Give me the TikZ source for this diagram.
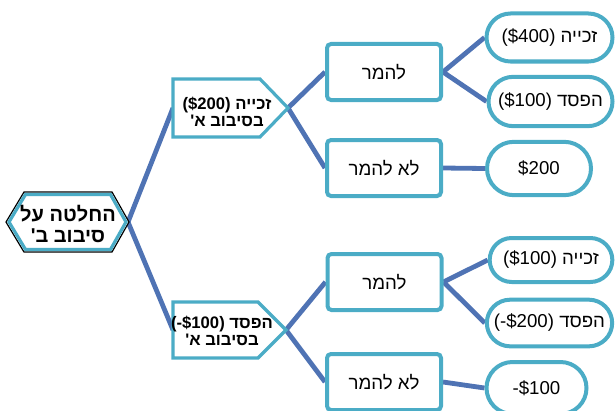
\documentclass[tikz,border=0pt]{standalone}
\usepackage{fontspec}
\TeXXeTstate=1
\setmainfont{Liberation Sans}
\newfontfamily\heb[Script=Hebrew]{Liberation Sans}
\newfontfamily\lat{Liberation Sans}
\usetikzlibrary{shapes.misc,backgrounds}
\definecolor{tealb}{RGB}{75,172,198}
\definecolor{conn}{RGB}{79,115,180}
\tikzset{
  px/.style={x=0.75pt,y=-0.75pt},
  conline/.style={draw=conn,line width=3.6pt},
  choicebox/.style={draw=tealb,fill=white,line width=3pt,rounded corners=3pt,
     minimum width=85.5pt,minimum height=42pt,inner sep=0pt,font=\fontsize{14}{16}\selectfont},
  pillbox/.style={draw=tealb,fill=white,line width=3pt,rounded rectangle,
     inner sep=0pt,font=\fontsize{14}{16}\selectfont},
  shapeline/.style={draw=tealb,fill=white,line width=2.4pt,line join=miter},
  boldtext/.style={font=\bfseries\fontsize{12.5}{13}\selectfont,align=center,inner sep=0pt},
  hextext/.style={font=\bfseries\fontsize{15}{15.8}\selectfont,align=center,inner sep=0pt}
}
\newcommand{\hw}[1]{{\heb\beginR #1\endR}}
\begin{document}
\begin{tikzpicture}[px]
\useasboundingbox (0,0) rectangle (616,410);
\clip (0,0) rectangle (616,410);

% anchor coordinates of the drawn shapes
\coordinate (hexR) at (128,222);
\coordinate (upW) at (173,108);
\coordinate (upTip) at (288,108);
\coordinate (loW) at (173,330);
\coordinate (loTip) at (286,330);

% hexagon
\filldraw[fill=white,draw=black,line width=0.9pt,line join=miter]
  (6,222) -- (24,192) -- (112,192) -- (129,222) -- (112,252) -- (24,252) -- cycle;
\draw[draw=tealb,line width=2.4pt,line join=miter]
  (9,222) -- (25.5,194.5) -- (110.5,194.5) -- (126,222) -- (110.5,249.5) -- (25.5,249.5) -- cycle;
\node[hextext] (hex) at (68,224) {\hw{החלטה על}\\\hw{סיבוב ב'}};

% pentagons
\path[shapeline] (173,79) -- (260,79) -- (288,108) -- (260,137) -- (173,137) -- cycle;
\node[boldtext] (up) at (227,112) {{\lat(\$200)} \hw{זכייה}\\\hw{בסיבוב א'}};
\path[shapeline] (173,302) -- (258,302) -- (286,330) -- (258,358) -- (173,358) -- cycle;
\node[boldtext] (lo) at (222,331) {{\lat(-\$100)} \hw{הפסד}\\\hw{בסיבוב א'}};

% choice boxes
\node[choicebox] (r1) at (384,72) {\hw{להמר}};
\node[choicebox] (r2) at (384,168) {\hw{לא להמר}};
\node[choicebox] (r3) at (384.5,282) {\hw{להמר}};
\node[choicebox] (r4) at (384,382) {\hw{לא להמר}};

% outcome pills
\node[pillbox,minimum width=94.5pt,minimum height=36pt] (o1) at (549.5,37.5) {{\lat(\$400)} \hw{זכייה}};
\node[pillbox,minimum width=93pt,minimum height=37pt] (o2) at (550.5,101.5) {{\lat(\$100)} \hw{הפסד}};
\node[pillbox,minimum width=78pt,minimum height=40pt] (o3) at (539,168.5) {\lat\$200};
\node[pillbox,minimum width=92pt,minimum height=33pt] (o4) at (551,260) {{\lat(\$100)} \hw{זכייה}};
\node[pillbox,minimum width=94pt,minimum height=35pt] (o5) at (549.5,323) {{\lat(-\$200)} \hw{הפסד}};
\node[pillbox,minimum width=75pt,minimum height=39pt] (o6) at (536.5,388) {\lat-\$100};

% connectors
\begin{scope}[on background layer]
\draw[conline] (hexR) -- (upW);
\draw[conline] (hexR) -- (loW);
\draw[conline] (upTip) -- (r1.west);
\draw[conline] (upTip) -- (r2.west);
\draw[conline] (loTip) -- (r3.west);
\draw[conline] (loTip) -- (r4.west);
\draw[conline] (r1.east) -- (o1.west);
\draw[conline] (r1.east) -- (o2.west);
\draw[conline] (r2.east) -- (o3.west);
\draw[conline] (r3.east) -- (o4.west);
\draw[conline] (r3.east) -- (o5.west);
\draw[conline] (r4.east) -- (o6.west);
\end{scope}
\end{tikzpicture}
\end{document}
